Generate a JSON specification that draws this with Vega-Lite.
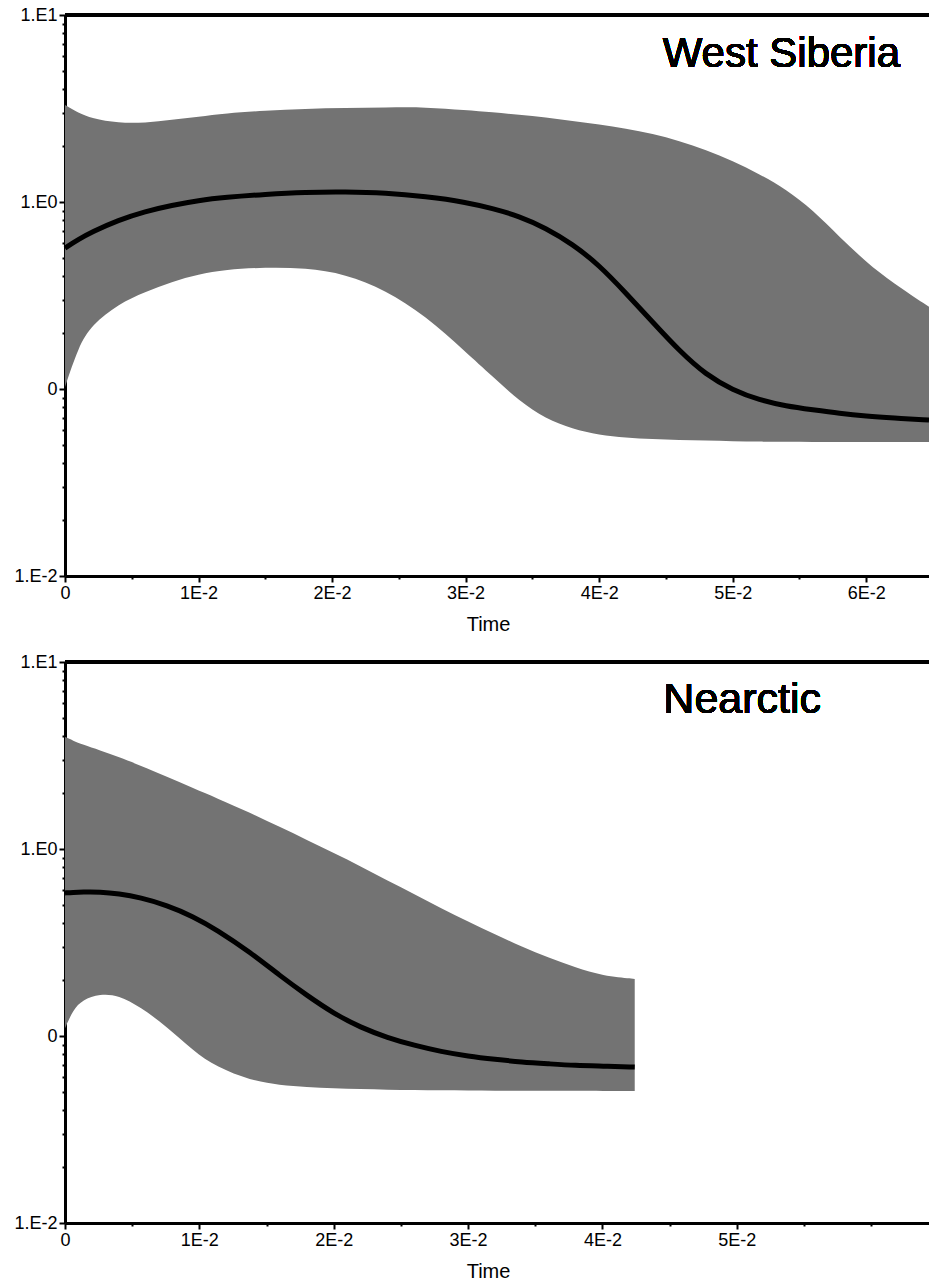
{
  "$schema": "https://vega.github.io/schema/vega-lite/v6.json",
  "background": "white",
  "padding": {"left": 13, "top": 6, "right": 0, "bottom": 0},
  "spacing": 19,
  "config": {
    "view": {"stroke": null},
    "font": "Liberation Sans",
    "axis": {
      "domainColor": "black", "domainWidth": 3, "tickColor": "black", "tickWidth": 2,
      "labelColor": "black", "labelFont": "Liberation Sans", "labelFontSize": 18,
      "titleFont": "Liberation Sans", "titleFontSize": 20, "titleFontWeight": "normal", "titleColor": "black",
      "grid": false, "labelPadding": 2
    }
  },
  "datasets": {
    "ws": [
      {"t": 0, "lo": 0.1026, "hi": 3.30, "mean": 0.567},
      {"t": 0.001, "lo": 0.168, "hi": 3.0, "mean": 0.63},
      {"t": 0.002, "lo": 0.22, "hi": 2.80, "mean": 0.69},
      {"t": 0.004, "lo": 0.285, "hi": 2.64, "mean": 0.80},
      {"t": 0.006, "lo": 0.33, "hi": 2.65, "mean": 0.89},
      {"t": 0.008, "lo": 0.375, "hi": 2.75, "mean": 0.96},
      {"t": 0.010, "lo": 0.41, "hi": 2.86, "mean": 1.02},
      {"t": 0.012, "lo": 0.435, "hi": 2.98, "mean": 1.06},
      {"t": 0.015, "lo": 0.447, "hi": 3.08, "mean": 1.10},
      {"t": 0.018, "lo": 0.444, "hi": 3.15, "mean": 1.13},
      {"t": 0.021, "lo": 0.412, "hi": 3.18, "mean": 1.135},
      {"t": 0.024, "lo": 0.338, "hi": 3.20, "mean": 1.12},
      {"t": 0.027, "lo": 0.246, "hi": 3.22, "mean": 1.07},
      {"t": 0.030, "lo": 0.158, "hi": 3.10, "mean": 1.0},
      {"t": 0.032, "lo": 0.117, "hi": 3.03, "mean": 0.923},
      {"t": 0.034, "lo": 0.0863, "hi": 2.92, "mean": 0.841},
      {"t": 0.036, "lo": 0.0692, "hi": 2.84, "mean": 0.726},
      {"t": 0.038, "lo": 0.0611, "hi": 2.71, "mean": 0.596},
      {"t": 0.040, "lo": 0.0567, "hi": 2.60, "mean": 0.460},
      {"t": 0.042, "lo": 0.055, "hi": 2.47, "mean": 0.326},
      {"t": 0.044, "lo": 0.054, "hi": 2.32, "mean": 0.228},
      {"t": 0.046, "lo": 0.0533, "hi": 2.12, "mean": 0.160},
      {"t": 0.048, "lo": 0.053, "hi": 1.90, "mean": 0.119},
      {"t": 0.050, "lo": 0.0525, "hi": 1.66, "mean": 0.0988},
      {"t": 0.052, "lo": 0.0523, "hi": 1.41, "mean": 0.0873},
      {"t": 0.054, "lo": 0.0522, "hi": 1.17, "mean": 0.081},
      {"t": 0.056, "lo": 0.0521, "hi": 0.906, "mean": 0.0774},
      {"t": 0.058, "lo": 0.0521, "hi": 0.65, "mean": 0.074},
      {"t": 0.060, "lo": 0.0521, "hi": 0.477, "mean": 0.0716},
      {"t": 0.062, "lo": 0.0521, "hi": 0.369, "mean": 0.070},
      {"t": 0.0647, "lo": 0.0521, "hi": 0.275, "mean": 0.0682}
    ],
    "ne": [
      {"t": 0, "lo": 0.110, "hi": 3.97, "mean": 0.582},
      {"t": 0.0006, "lo": 0.138, "hi": 3.80, "mean": 0.586},
      {"t": 0.0013, "lo": 0.156, "hi": 3.62, "mean": 0.589},
      {"t": 0.0026, "lo": 0.168, "hi": 3.37, "mean": 0.590},
      {"t": 0.004, "lo": 0.165, "hi": 3.10, "mean": 0.577},
      {"t": 0.0056, "lo": 0.143, "hi": 2.80, "mean": 0.550},
      {"t": 0.0076, "lo": 0.112, "hi": 2.43, "mean": 0.50},
      {"t": 0.0095, "lo": 0.084, "hi": 2.12, "mean": 0.437},
      {"t": 0.0113, "lo": 0.068, "hi": 1.87, "mean": 0.37},
      {"t": 0.0138, "lo": 0.058, "hi": 1.56, "mean": 0.28},
      {"t": 0.016, "lo": 0.0545, "hi": 1.31, "mean": 0.21},
      {"t": 0.018, "lo": 0.0533, "hi": 1.12, "mean": 0.165},
      {"t": 0.020, "lo": 0.0525, "hi": 0.95, "mean": 0.132},
      {"t": 0.022, "lo": 0.052, "hi": 0.81, "mean": 0.111},
      {"t": 0.024, "lo": 0.0516, "hi": 0.675, "mean": 0.098},
      {"t": 0.026, "lo": 0.0514, "hi": 0.575, "mean": 0.089},
      {"t": 0.028, "lo": 0.0512, "hi": 0.48, "mean": 0.0825},
      {"t": 0.030, "lo": 0.0511, "hi": 0.41, "mean": 0.078},
      {"t": 0.032, "lo": 0.051, "hi": 0.35, "mean": 0.075},
      {"t": 0.034, "lo": 0.051, "hi": 0.30, "mean": 0.0725},
      {"t": 0.036, "lo": 0.0509, "hi": 0.262, "mean": 0.071},
      {"t": 0.038, "lo": 0.0509, "hi": 0.232, "mean": 0.0695},
      {"t": 0.040, "lo": 0.0508, "hi": 0.21, "mean": 0.069},
      {"t": 0.0424, "lo": 0.0508, "hi": 0.202, "mean": 0.0682}
    ]
  },
  "vconcat": [
    {
      "width": 864, "height": 561,
      "data": {"name": "ws"},
      "encoding": {
        "x": {"field": "t", "type": "quantitative", "title": "Time",
          "scale": {"domain": [0, 0.0647], "nice": false, "zero": false},
          "axis": {
            "values": [0, 0.005, 0.01, 0.015, 0.02, 0.025, 0.03, 0.035, 0.04, 0.045, 0.05, 0.055, 0.06],
            "labelExpr": "datum.value == 0 ? '0' : (round(datum.value*200) % 2 == 0 ? round(datum.value*100) + 'E-2' : '')",
            "tickSize": {"condition": {"test": "round(datum.value*200) % 2 == 0", "value": 6}, "value": 3},
            "labelFlush": false, "labelOverlap": false, "titleX": 423, "titlePadding": 12
          }
        },
        "y": {"type": "quantitative",
          "scale": {"type": "log", "domain": [0.01, 10], "nice": false},
          "axis": {
            "title": null,
            "values": [0.01,0.02,0.03,0.04,0.05,0.06,0.07,0.08,0.09,0.1,0.2,0.3,0.4,0.5,0.6,0.7,0.8,0.9,1,2,3,4,5,6,7,8,9,10],
            "labelExpr": "datum.value == 10 ? '1.E1' : datum.value == 1 ? '1.E0' : datum.value == 0.1 ? '0' : datum.value == 0.01 ? '1.E-2' : ''",
            "tickSize": {"condition": {"test": "indexof([0.01,0.1,1,10], datum.value) >= 0", "value": 6}, "value": 3},
            "labelOverlap": false, "labelFlush": false
          }
        }
      },
      "layer": [
        {"mark": {"type": "area", "color": "#737373", "interpolate": "basis"},
         "encoding": {"y": {"field": "hi"}, "y2": {"field": "lo"}}},
        {"mark": {"type": "line", "color": "black", "strokeWidth": 5, "interpolate": "basis"},
         "encoding": {"y": {"field": "mean"}}},
        {"mark": {"type": "rule", "color": "black", "strokeWidth": 3},
         "encoding": {"y": {"datum": 10}, "x": null}},
        {"mark": {"type": "text", "text": "West Siberia", "fontSize": 42, "align": "left", "baseline": "alphabetic", "color": "black", "font": "Liberation Sans"},
         "encoding": {"x": {"datum": 0.04476}, "y": {"datum": 5.27}}}
      ]
    },
    {
      "width": 864, "height": 561,
      "data": {"name": "ne"},
      "encoding": {
        "x": {"field": "t", "type": "quantitative", "title": "Time",
          "scale": {"domain": [0, 0.0643], "nice": false, "zero": false},
          "axis": {
            "values": [0, 0.005, 0.01, 0.015, 0.02, 0.025, 0.03, 0.035, 0.04, 0.045, 0.05, 0.055, 0.06],
            "labelExpr": "datum.value == 0 ? '0' : (round(datum.value*200) % 2 == 0 && datum.value < 0.055 ? round(datum.value*100) + 'E-2' : '')",
            "tickSize": {"condition": {"test": "round(datum.value*200) % 2 == 0 && datum.value < 0.055", "value": 6}, "value": 3},
            "labelFlush": false, "labelOverlap": false, "titleX": 423, "titlePadding": 12
          }
        },
        "y": {"type": "quantitative",
          "scale": {"type": "log", "domain": [0.01, 10], "nice": false},
          "axis": {
            "title": null,
            "values": [0.01,0.02,0.03,0.04,0.05,0.06,0.07,0.08,0.09,0.1,0.2,0.3,0.4,0.5,0.6,0.7,0.8,0.9,1,2,3,4,5,6,7,8,9,10],
            "labelExpr": "datum.value == 10 ? '1.E1' : datum.value == 1 ? '1.E0' : datum.value == 0.1 ? '0' : datum.value == 0.01 ? '1.E-2' : ''",
            "tickSize": {"condition": {"test": "indexof([0.01,0.1,1,10], datum.value) >= 0", "value": 6}, "value": 3},
            "labelOverlap": false, "labelFlush": false
          }
        }
      },
      "layer": [
        {"mark": {"type": "area", "color": "#737373", "interpolate": "basis"},
         "encoding": {"y": {"field": "hi"}, "y2": {"field": "lo"}}},
        {"mark": {"type": "line", "color": "black", "strokeWidth": 5, "interpolate": "basis"},
         "encoding": {"y": {"field": "mean"}}},
        {"mark": {"type": "rule", "color": "black", "strokeWidth": 3},
         "encoding": {"y": {"datum": 10}, "x": null}},
        {"mark": {"type": "text", "text": "Nearctic", "fontSize": 43, "align": "left", "baseline": "alphabetic", "color": "black", "font": "Liberation Sans"},
         "encoding": {"x": {"datum": 0.04453}, "y": {"datum": 5.33}}}
      ]
    }
  ]
}
